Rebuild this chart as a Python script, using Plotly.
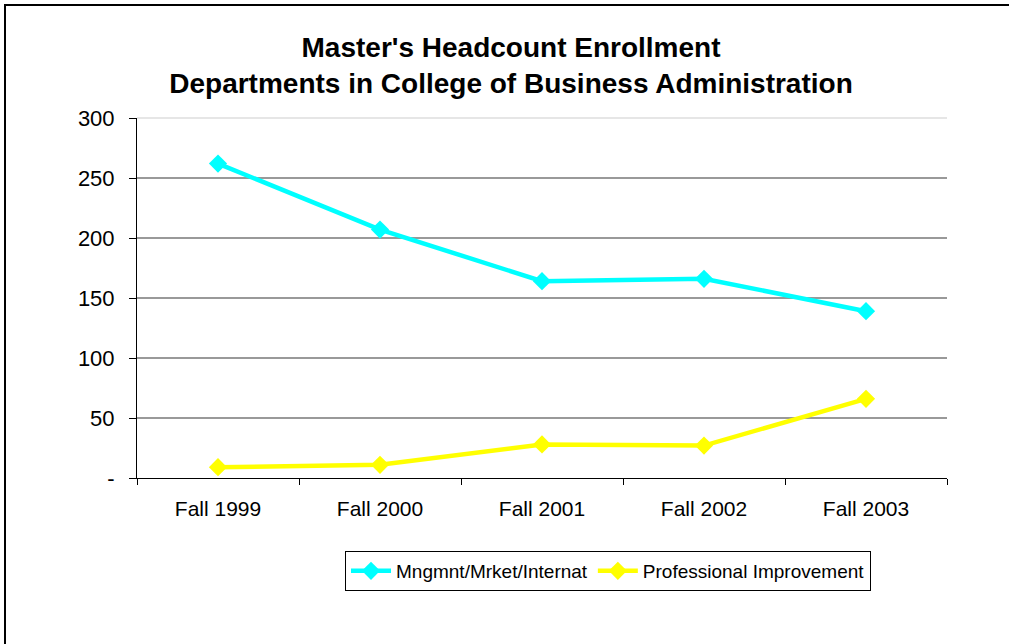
import plotly.graph_objects as go

categories = ["Fall 1999", "Fall 2000", "Fall 2001", "Fall 2002", "Fall 2003"]
mngmnt = [262, 207, 164, 166, 139]
professional = [9, 11, 28, 27, 66]
series_names = ["Mngmnt/Mrket/Internat", "Professional Improvement"]
y_ticks = [0, 50, 100, 150, 200, 250, 300]
y_tick_labels = ["-", "50", "100", "150", "200", "250", "300"]

L, R, T, B = 137, 62, 118, 166
W, H = 1009, 644
pw, ph = W - L - R, H - T - B

fig = go.Figure()
fig.add_trace(go.Scatter(x=categories, y=mngmnt, name=series_names[0], mode="lines+markers",
                         line=dict(color="#00FFFF", width=4.5),
                         marker=dict(symbol="diamond", size=14, color="#00FFFF")))
fig.add_trace(go.Scatter(x=categories, y=professional, name=series_names[1], mode="lines+markers",
                         line=dict(color="#FFFF00", width=4.5),
                         marker=dict(symbol="diamond", size=14, color="#FFFF00")))

def px_x(x):
    return (x - L) / pw

def px_y(y):
    return (H - B - y) / ph

fig.update_layout(
    width=W, height=H,
    margin=dict(l=L, r=R, t=T, b=B, autoexpand=False),
    paper_bgcolor="white", plot_bgcolor="white",
    font=dict(family="Arial, Liberation Sans, sans-serif", color="black", size=21),
    title=dict(text="Master's Headcount Enrollment<br>Departments in College of Business Administration",
               x=511 / W, xanchor="center", y=1 - 57 / H, yanchor="middle",
               font=dict(size=28, family="Arial, Liberation Sans, sans-serif", weight="bold")),
    showlegend=True,
    legend=dict(orientation="h", x=px_x(608), xanchor="center", y=px_y(571), yanchor="middle",
                bordercolor="black", borderwidth=1, bgcolor="white",
                font=dict(size=19), itemwidth=40, tracegroupgap=0),
    xaxis=dict(type="category", range=[-0.5, 4.5], showgrid=False, showline=True,
               linecolor="black", linewidth=1, ticks="outside", tickson="boundaries",
               ticklen=6, tickcolor="black", tickfont=dict(size=21), zeroline=False,
               ticklabelstandoff=12),
    yaxis=dict(range=[0, 300], tickvals=y_ticks, ticktext=y_tick_labels, showgrid=True,
               gridcolor="#999999", gridwidth=2, showline=True, linecolor="black", linewidth=1,
               ticks="outside", ticklen=7, tickcolor="black", tickfont=dict(size=22),
               zeroline=False, ticklabelstandoff=10),
    shapes=[
        dict(type="line", xref="paper", yref="paper", x0=0, x1=1, y0=1, y1=1,
             line=dict(color="#e6e6e6", width=2), layer="below"),
        dict(type="rect", xref="paper", yref="paper",
             x0=px_x(5), x1=px_x(1015), y0=px_y(5), y1=px_y(660),
             line=dict(color="black", width=2), fillcolor="rgba(0,0,0,0)"),
    ],
)

fig.write_html("out.html", config={"displayModeBar": False},
               post_script="document.body.style.margin='0';")
